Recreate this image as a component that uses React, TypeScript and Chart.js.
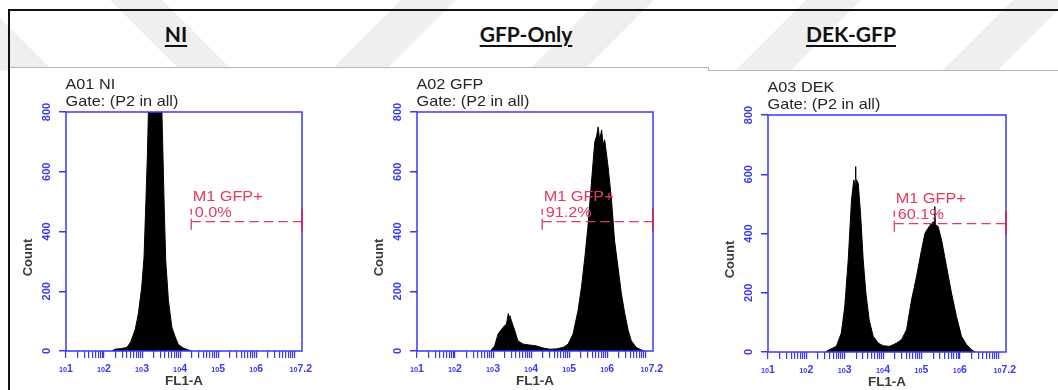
import React, { useEffect, useRef } from "react";
import { Chart, registerables } from "chart.js";

Chart.register(...registerables);

// ---------- DATA ----------
const panelTitles = ["NI", "GFP-Only", "DEK-GFP"];
const sampleNames = ["A01 NI", "A02 GFP", "A03 DEK"];
const gateNote = "Gate: (P2 in all)";
const gateName = "M1 GFP+";
const gatePercents = ["0.0%", "91.2%", "60.1%"];
const gateStartLog = 4.29;
const gateEndLog = 7.2;
const gateCount = 433;
const yTickValues = [0, 200, 400, 600, 800];
const xDecadeValues = [1, 2, 3, 4, 5, 6, 7.2];
const xDecadeLabels = ["1", "2", "3", "4", "5", "6", "7.2"];
const xAxisTitle = "FL1-A";
const yAxisTitle = "Count";

// FL1-A in log10 units, counts per channel
const niLog = [2.2, 2.29, 2.45, 2.6, 2.7, 2.82, 2.9, 2.99, 3.05, 3.1, 3.14, 3.17, 3.25, 3.34, 3.43, 3.51, 3.54, 3.58, 3.62, 3.69, 3.78, 3.86, 3.95, 4.08, 4.2, 4.3];
const niCount = [0, 6, 8, 12, 30, 73, 124, 214, 314, 505, 662, 830, 980, 1050, 1000, 850, 695, 482, 303, 170, 80, 50, 22, 10, 4, 0];

const gfpLog = [2.93, 2.96, 3.04, 3.13, 3.26, 3.35, 3.4, 3.42, 3.44, 3.48, 3.57, 3.65, 3.79, 3.96, 4.14, 4.31, 4.49, 4.66, 4.84, 4.97, 5.1, 5.23, 5.32, 5.41, 5.49, 5.58, 5.67, 5.72, 5.76, 5.8, 5.85, 5.89, 5.93, 6.02, 6.11, 6.19, 6.28, 6.37, 6.46, 6.55, 6.63, 6.76, 6.9, 6.98];
const gfpCount = [0, 5, 17, 57, 79, 90, 125, 110, 118, 101, 68, 34, 23, 20, 17, 10, 6, 7, 12, 23, 57, 135, 213, 314, 415, 560, 700, 720, 750, 705, 740, 690, 707, 617, 505, 370, 281, 191, 124, 68, 34, 12, 3, 0];

const dekLog = [2.5, 2.565, 2.78, 2.91, 3.0, 3.09, 3.175, 3.235, 3.27, 3.28, 3.29, 3.35, 3.41, 3.48, 3.55, 3.635, 3.74, 3.87, 4.0, 4.17, 4.35, 4.48, 4.61, 4.74, 4.87, 5.0, 5.09, 5.17, 5.26, 5.33, 5.345, 5.36, 5.43, 5.52, 5.65, 5.78, 5.91, 6.04, 6.17, 6.3, 6.39];
const dekCount = [0, 6, 19, 64, 154, 311, 513, 581, 560, 626, 585, 570, 469, 311, 199, 109, 53, 30, 21, 19, 30, 42, 75, 176, 255, 345, 401, 418, 435, 440, 491, 430, 424, 379, 289, 199, 120, 53, 25, 8, 0];

const seriesLogs = [niLog, gfpLog, dekLog];
const seriesCounts = [niCount, gfpCount, dekCount];

// ---------- STYLE / LAYOUT ----------
const BLUE = "#3a3af2";
const RED = "#e43a5c";
const TEXT = "#262626";
const SX = 1.12;

const geoms = [
  { left: 12, top: 72, w: 318, h: 318, pad: { left: 54, top: 40, right: 28, bottom: 39 } },
  { left: 362, top: 72, w: 318, h: 318, pad: { left: 55, top: 40, right: 27, bottom: 39 } },
  { left: 713, top: 72, w: 345, h: 318, pad: { left: 55, top: 43, right: 52, bottom: 38 } },
];
const headerCenters = [176, 526, 851];

const minorTicks: number[] = [];
for (let n = 1; n <= 7; n++) {
  for (let k = 1; k <= 9; k++) {
    const v = n + Math.log10(k);
    if (v <= 7.2 + 1e-9) minorTicks.push(v);
  }
}

function txt(
  ctx: CanvasRenderingContext2D,
  s: string,
  x: number,
  y: number,
  font: string,
  color: string,
  align: CanvasTextAlign = "left",
  baseline: CanvasTextBaseline = "alphabetic",
  rot = 0,
  sx = SX
) {
  ctx.save();
  ctx.translate(x, y);
  ctx.scale(sx, 1);
  if (rot) ctx.rotate(rot);
  ctx.font = font;
  ctx.fillStyle = color;
  ctx.textAlign = align;
  ctx.textBaseline = baseline;
  ctx.fillText(s, 0, 0);
  ctx.restore();
}

function makeOverlay(idx: number) {
  return {
    id: "overlay" + idx,
    afterDatasetsDraw(chart: any) {
      const { ctx, chartArea: a, scales } = chart;
      const xs = scales.x;
      const ys = scales.y;
      ctx.save();
      // plot frame
      ctx.strokeStyle = BLUE;
      ctx.lineWidth = 1.5;
      ctx.strokeRect(a.left, a.top, a.right - a.left, a.bottom - a.top);

      // y tick labels
      yTickValues.forEach((v) => {
        txt(ctx, String(v), a.left - 19, ys.getPixelForValue(v), "bold 11px Arial", BLUE, "center", "middle", -Math.PI / 2, 1.05);
      });
      // x tick labels
      xDecadeValues.forEach((v, i) => {
        const last = i === xDecadeValues.length - 1;
        const px = xs.getPixelForValue(v) + (last ? -4.5 : 1);
        const by = a.bottom + 20.5;
        txt(ctx, "10", px, by, "bold 6.5px Arial", BLUE, "right");
        txt(ctx, xDecadeLabels[i], px, by, "bold 10.5px Arial", BLUE, "left", "alphabetic", 0, 1.0);
      });
      // axis titles
      txt(ctx, xAxisTitle, (a.left + a.right) / 2, a.bottom + 34, "bold 12px Arial", "#3a3a3a", "center");
      txt(ctx, yAxisTitle, a.left - 37.5, (a.top + a.bottom) / 2 + 26, "bold 13px Arial", "#3a3a3a", "center", "middle", -Math.PI / 2, 1.0);

      // sample label
      txt(ctx, sampleNames[idx], a.left - 0.5, a.top - 23, "14.5px Arial", TEXT);
      txt(ctx, gateNote, a.left - 0.5, a.top - 6, "14.5px Arial", TEXT);

      // gate marker
      const gx1 = xs.getPixelForValue(gateStartLog);
      const gx2 = xs.getPixelForValue(gateEndLog);
      const gy = ys.getPixelForValue(gateCount);
      ctx.strokeStyle = RED;
      ctx.lineWidth = 1.3;
      ctx.setLineDash([9.5, 5]);
      ctx.beginPath();
      ctx.moveTo(gx1, gy);
      ctx.lineTo(gx2, gy);
      ctx.stroke();
      ctx.setLineDash([]);
      ctx.beginPath();
      ctx.moveTo(gx1, gy - 13);
      ctx.lineTo(gx1, gy - 7);
      ctx.moveTo(gx1, gy - 3);
      ctx.lineTo(gx1, gy + 8);
      ctx.stroke();
      ctx.lineWidth = 2;
      ctx.strokeStyle = "#c0306f";
      ctx.beginPath();
      ctx.moveTo(gx2, gy - 13);
      ctx.lineTo(gx2, gy + 10);
      ctx.stroke();
      txt(ctx, gateName, gx1 + 1.5, gy - 21, "14.5px Arial", RED);
      txt(ctx, gatePercents[idx], gx1 + 3.5, gy - 5, "14.5px Arial", RED);
      ctx.restore();
    },
  };
}

function Panel({ idx }: { idx: number }) {
  const ref = useRef<HTMLCanvasElement>(null);
  const g = geoms[idx];
  useEffect(() => {
    const logs = seriesLogs[idx];
    const counts = seriesCounts[idx];
    const chart = new Chart(ref.current as HTMLCanvasElement, {
      type: "line",
      data: {
        datasets: [
          {
            data: logs.map((x, i) => ({ x, y: counts[i] })),
            fill: "origin",
            backgroundColor: "#000",
            borderColor: "#000",
            borderWidth: 1,
            pointRadius: 0,
            tension: 0,
          },
        ],
      },
      options: {
        animation: false,
        responsive: false,
        events: [],
        layout: { padding: g.pad },
        plugins: { legend: { display: false }, tooltip: { enabled: false }, title: { display: false } },
        scales: {
          x: {
            type: "linear",
            min: 1,
            max: 7.2,
            bounds: "data",
            afterBuildTicks: (s: any) => {
              s.ticks = minorTicks.map((v) => ({ value: v }));
            },
            afterFit: (s: any) => {
              s.height = 0;
            },
            ticks: { display: false, autoSkip: false },
            grid: { display: true, drawOnChartArea: false, drawTicks: true, tickLength: 7, color: BLUE, lineWidth: 1.2 },
            border: { display: false },
          },
          y: {
            type: "linear",
            min: 0,
            max: 800,
            afterBuildTicks: (s: any) => {
              s.ticks = yTickValues.map((v) => ({ value: v }));
            },
            afterFit: (s: any) => {
              s.width = 0;
            },
            ticks: { display: false },
            grid: { display: true, drawOnChartArea: false, drawTicks: true, tickLength: 7, color: BLUE, lineWidth: 1.5 },
            border: { display: false },
          },
        },
      },
      plugins: [makeOverlay(idx)],
    } as any);
    return () => chart.destroy();
  }, [idx]);
  return (
    <canvas
      ref={ref}
      width={g.w}
      height={g.h}
      style={{ position: "absolute", left: g.left, top: g.top, width: g.w, height: g.h }}
    />
  );
}

const leftBands = [-70, 110];
const rightBands = [330, 528, 735, 942];

export default function App() {
  return (
    <div style={{ position: "absolute", left: 0, top: 0, width: 1058, height: 390, overflow: "hidden", background: "#fff" }}>
      <svg width={1058} height={71} style={{ position: "absolute", left: 0, top: 0 }}>
        {leftBands.map((a, i) => (
          <polygon key={"l" + i} points={`${a},0 ${a + 52},0 ${a + 123},71 ${a + 71},71`} fill="#efefef" />
        ))}
        {rightBands.map((b, i) => (
          <polygon key={"r" + i} points={`${b},71 ${b + 55},71 ${b + 126},0 ${b + 71},0`} fill="#efefef" />
        ))}
        <rect x={10} y={67} width={698} height={5} fill="#fff" />
      </svg>
      {/* frame */}
      <div style={{ position: "absolute", left: 8, top: 9, width: 1050, height: 2, background: "#111" }} />
      <div style={{ position: "absolute", left: 8, top: 9, width: 2, height: 381, background: "#111" }} />
      <div style={{ position: "absolute", left: 10, top: 67, width: 698, height: 1, background: "#b5b5b5" }} />
      <div style={{ position: "absolute", left: 708, top: 67, width: 1, height: 4, background: "#b5b5b5" }} />
      <div style={{ position: "absolute", left: 708, top: 70, width: 350, height: 1, background: "#b5b5b5" }} />
      {panelTitles.map((t, i) => (
        <div
          key={t}
          style={{
            position: "absolute",
            left: headerCenters[i] - 100,
            width: 200,
            top: 22,
            textAlign: "center",
            font: "bold 21px Lato",
            lineHeight: "24px",
            color: "#111",
          }}
        >
          <span style={{ textDecoration: "underline", textDecorationThickness: "2px", textUnderlineOffset: "3px" }}>{t}</span>
        </div>
      ))}
      {[0, 1, 2].map((i) => (
        <Panel key={i} idx={i} />
      ))}
    </div>
  );
}
